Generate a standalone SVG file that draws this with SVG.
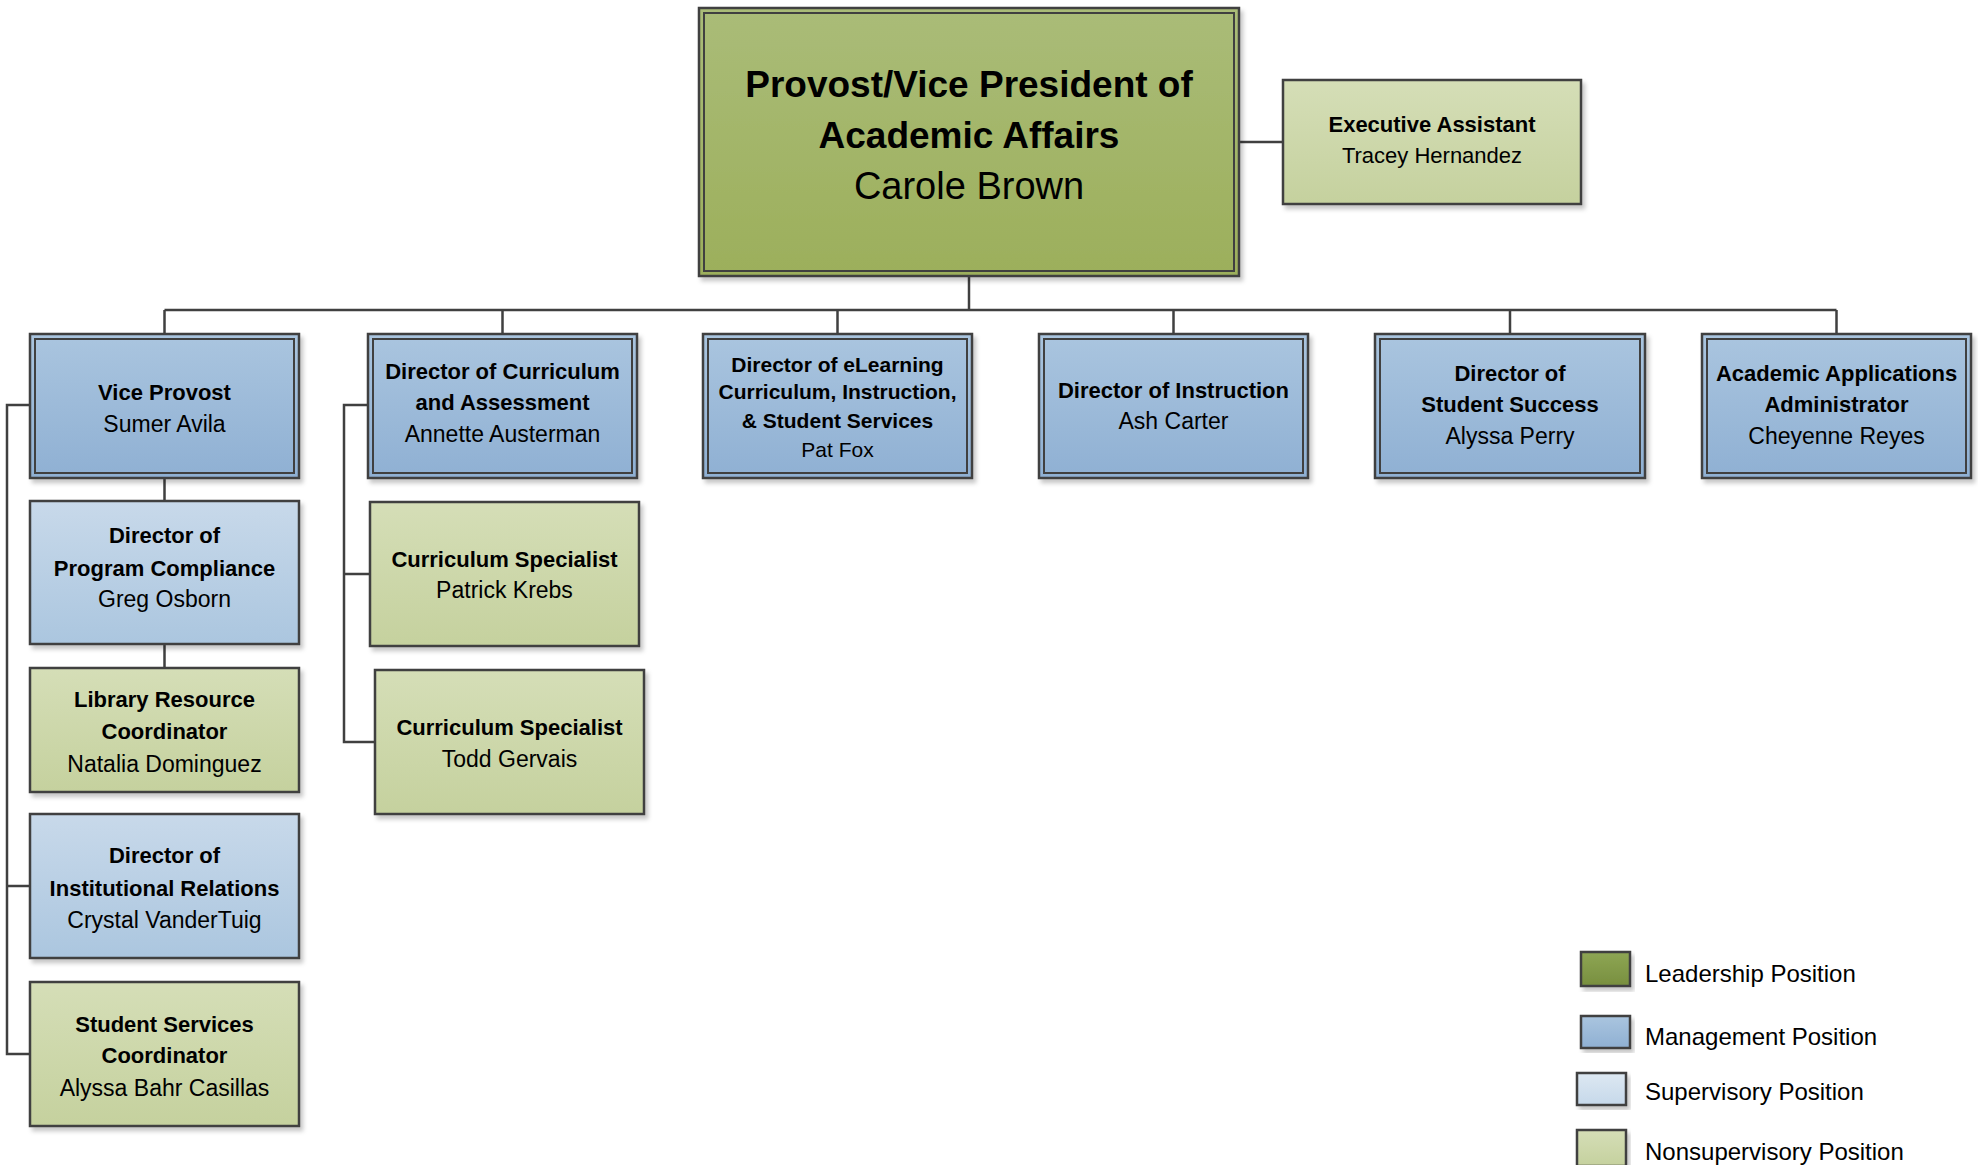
<svg xmlns="http://www.w3.org/2000/svg" width="1978" height="1165" viewBox="0 0 1978 1165">
<style>
  .t { font-family: "Liberation Sans", Arial, sans-serif; fill: #000; text-anchor: middle; }
  .b { font-weight: bold; font-size: 22px; }
  .n { font-size: 23px; }
  .bs { font-weight: bold; font-size: 21px; }
  .ns { font-size: 21px; }
  .big { font-weight: bold; font-size: 37px; }
  .bign { font-size: 38px; }
  .leg { font-family: "Liberation Sans", Arial, sans-serif; font-size: 24px; fill: #000; }
  .box { stroke: #404040; stroke-width: 2.5; filter: url(#sh); }
  .inner { fill: none; stroke: #404040; stroke-width: 2; }
  .lead { fill: url(#gLead); }
  .mgmt { fill: url(#gMgmt); }
  .sup { fill: url(#gSup); }
  .non { fill: url(#gNon); }
  .conn { fill: none; stroke: #404040; stroke-width: 2.5; }
</style>
<defs>
  <linearGradient id="gLead" x1="0" y1="0" x2="0" y2="1">
    <stop offset="0" stop-color="#aabc78"/>
    <stop offset="1" stop-color="#9caf5b"/>
  </linearGradient>
  <linearGradient id="gLeadDark" x1="0" y1="0" x2="0" y2="1">
    <stop offset="0" stop-color="#8ea654"/>
    <stop offset="1" stop-color="#788f3f"/>
  </linearGradient>
  <linearGradient id="gMgmt" x1="0" y1="0" x2="0" y2="1">
    <stop offset="0" stop-color="#aac5df"/>
    <stop offset="1" stop-color="#8fb0d3"/>
  </linearGradient>
  <linearGradient id="gSup" x1="0" y1="0" x2="0" y2="1">
    <stop offset="0" stop-color="#c8d9ea"/>
    <stop offset="1" stop-color="#abc6df"/>
  </linearGradient>
  <linearGradient id="gSupLight" x1="0" y1="0" x2="0" y2="1">
    <stop offset="0" stop-color="#dde8f2"/>
    <stop offset="1" stop-color="#c6d8ea"/>
  </linearGradient>
  <linearGradient id="gNon" x1="0" y1="0" x2="0" y2="1">
    <stop offset="0" stop-color="#d5deb7"/>
    <stop offset="1" stop-color="#c5d19e"/>
  </linearGradient>
  <filter id="sh" x="-5%" y="-5%" width="115%" height="120%">
    <feDropShadow dx="3" dy="4" stdDeviation="2" flood-color="#000" flood-opacity="0.22"/>
  </filter>
</defs>

<g id="connectors">
  <path class="conn" d="M1239,142 H1283"/>
  <path class="conn" d="M969,276 V310"/>
  <path class="conn" d="M164.5,310 H1836.5"/>
  <path class="conn" d="M164.5,310 V334 M502.5,310 V334 M837.5,310 V334 M1173.5,310 V334 M1510,310 V334 M1836.5,310 V334"/>
  <path class="conn" d="M164.5,478 V501 M164.5,644 V668"/>
  <path class="conn" d="M30,405 H7 V1054 H30 M7,886 H30"/>
  <path class="conn" d="M368,405 H344 V742 H375 M344,574 H370"/>
</g>

<g id="provost">
  <rect class="box lead" x="699" y="8" width="540" height="268"/>
  <rect class="inner" x="704" y="13" width="530" height="258"/>
  <text class="t big" x="969" y="97">Provost/Vice President of</text>
  <text class="t big" x="969" y="148">Academic Affairs</text>
  <text class="t bign" x="969" y="199">Carole Brown</text>
</g>

<g id="executive-assistant">
  <rect class="box non" x="1283" y="80" width="298" height="124"/>
  <text class="t b" x="1432" y="132">Executive Assistant</text>
  <text class="t n" x="1432" y="163" style="font-size:22px">Tracey Hernandez</text>
</g>

<g id="vice-provost">
  <rect class="box mgmt" x="30" y="334" width="269" height="144"/>
  <rect class="inner" x="35" y="339" width="259" height="134"/>
  <text class="t b" x="164.5" y="400">Vice Provost</text>
  <text class="t n" x="164.5" y="432">Sumer Avila</text>
</g>

<g id="director-curriculum">
  <rect class="box mgmt" x="368" y="334" width="269" height="144"/>
  <rect class="inner" x="373" y="339" width="259" height="134"/>
  <text class="t b" x="502.5" y="379">Director of Curriculum</text>
  <text class="t b" x="502.5" y="410">and Assessment</text>
  <text class="t n" x="502.5" y="442">Annette Austerman</text>
</g>

<g id="director-elearning">
  <rect class="box mgmt" x="703" y="334" width="269" height="144"/>
  <rect class="inner" x="708" y="339" width="259" height="134"/>
  <text class="t bs" x="837.5" y="372">Director of eLearning</text>
  <text class="t bs" x="837.5" y="399">Curriculum, Instruction,</text>
  <text class="t bs" x="837.5" y="428">&amp; Student Services</text>
  <text class="t ns" x="837.5" y="457">Pat Fox</text>
</g>

<g id="director-instruction">
  <rect class="box mgmt" x="1039" y="334" width="269" height="144"/>
  <rect class="inner" x="1044" y="339" width="259" height="134"/>
  <text class="t b" x="1173.5" y="398">Director of Instruction</text>
  <text class="t n" x="1173.5" y="429">Ash Carter</text>
</g>

<g id="director-student-success">
  <rect class="box mgmt" x="1375" y="334" width="270" height="144"/>
  <rect class="inner" x="1380" y="339" width="260" height="134"/>
  <text class="t b" x="1510" y="381">Director of</text>
  <text class="t b" x="1510" y="412">Student Success</text>
  <text class="t n" x="1510" y="444">Alyssa Perry</text>
</g>

<g id="academic-applications">
  <rect class="box mgmt" x="1702" y="334" width="269" height="144"/>
  <rect class="inner" x="1707" y="339" width="259" height="134"/>
  <text class="t b" x="1836.5" y="381">Academic Applications</text>
  <text class="t b" x="1836.5" y="412">Administrator</text>
  <text class="t n" x="1836.5" y="444">Cheyenne Reyes</text>
</g>

<g id="program-compliance">
  <rect class="box sup" x="30" y="501" width="269" height="143"/>
  <text class="t b" x="164.5" y="543">Director of</text>
  <text class="t b" x="164.5" y="576">Program Compliance</text>
  <text class="t n" x="164.5" y="607">Greg Osborn</text>
</g>

<g id="library-resource">
  <rect class="box non" x="30" y="668" width="269" height="124"/>
  <text class="t b" x="164.5" y="707">Library Resource</text>
  <text class="t b" x="164.5" y="739">Coordinator</text>
  <text class="t n" x="164.5" y="772">Natalia Dominguez</text>
</g>

<g id="institutional-relations">
  <rect class="box sup" x="30" y="814" width="269" height="144"/>
  <text class="t b" x="164.5" y="863">Director of</text>
  <text class="t b" x="164.5" y="896">Institutional Relations</text>
  <text class="t n" x="164.5" y="928">Crystal VanderTuig</text>
</g>

<g id="student-services">
  <rect class="box non" x="30" y="982" width="269" height="144"/>
  <text class="t b" x="164.5" y="1032">Student Services</text>
  <text class="t b" x="164.5" y="1063">Coordinator</text>
  <text class="t n" x="164.5" y="1096">Alyssa Bahr Casillas</text>
</g>

<g id="curriculum-specialist-1">
  <rect class="box non" x="370" y="502" width="269" height="144"/>
  <text class="t b" x="504.5" y="567">Curriculum Specialist</text>
  <text class="t n" x="504.5" y="598">Patrick Krebs</text>
</g>

<g id="curriculum-specialist-2">
  <rect class="box non" x="375" y="670" width="269" height="144"/>
  <text class="t b" x="509.5" y="735">Curriculum Specialist</text>
  <text class="t n" x="509.5" y="767">Todd Gervais</text>
</g>

<g id="legend">
  <rect class="box" fill="url(#gLeadDark)" x="1581" y="952" width="49" height="34"/>
  <text class="leg" x="1645" y="982">Leadership Position</text>
  <rect class="box mgmt" x="1581" y="1016" width="49" height="32"/>
  <text class="leg" x="1645" y="1045">Management Position</text>
  <rect class="box" fill="url(#gSupLight)" x="1577" y="1073" width="49" height="32"/>
  <text class="leg" x="1645" y="1100">Supervisory Position</text>
  <rect class="box non" x="1577" y="1130" width="49" height="36"/>
  <text class="leg" x="1645" y="1160">Nonsupervisory Position</text>
</g>
</svg>
